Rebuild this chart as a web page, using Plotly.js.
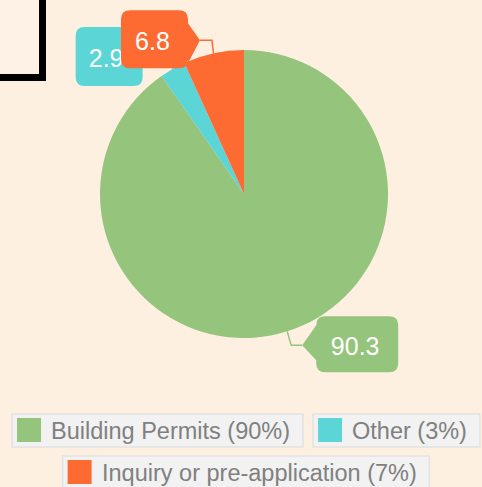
<!DOCTYPE html>
<html>
<head>
<meta charset="utf-8">
<script src="https://cdn.plot.ly/plotly-3.0.1.min.js"></script>
<style>html,body{margin:0;padding:0;background:#fdf0e1;}#chart{width:482px;height:487px;}</style>
</head>
<body>
<div id="chart"></div>
<script>
// ---- data ----
const labels = ['Building Permits', 'Other', 'Inquiry or pre-application'];
const values = [90.3, 2.9, 6.8];
const colors = ['#95c47c', '#5bd5d5', '#fd6b33'];

// ---- layout constants (pixels) ----
const W = 482, H = 487;
const CX = 244, CY = 194, R = 144;
const BG = '#fdf0e1';
const FONT = "'Liberation Sans', Arial, sans-serif";
const px = x => x / W;
const py = y => 1 - y / H;

// callout placement rules per slice (offsets in px)
const calloutRules = [
  { elbow: [4, 14], tip: [15, 14], side: 'left', box: [14, -29, 96, 27], wedge: [-20, 15], shift: -2 },
  { elbow: [0, -13], tip: [-15, -13], side: 'right', box: [-82, -29, -15, 30], wedge: [-12, 12], shift: -3 },
  { elbow: [-1.5, -13], tip: [-13.5, -13], side: 'right', box: [-79, -30, -12, 28], wedge: [-17, 23], shift: -2 }
];
const drawOrder = [1, 2, 0];

const total = values.reduce((a, b) => a + b, 0);
const shapes = [];

// top-left frame fragment
shapes.push({
  type: 'rect', xref: 'paper', yref: 'paper',
  x0: px(-10), x1: px(42.5), y0: py(-10), y1: py(77.5),
  line: { color: '#000', width: 7 }, fillcolor: 'rgba(255,255,255,0.15)', layer: 'above'
});

function pathFrom(cmds) {
  return cmds.map(c => {
    if (c[0] === 'Z') return 'Z';
    if (c[0] === 'Q') return 'Q' + px(c[1]) + ',' + py(c[2]) + ' ' + px(c[3]) + ',' + py(c[4]);
    return c[0] + px(c[1]) + ',' + py(c[2]);
  }).join(' ');
}

function calloutPath(x0, y0, x1, y1, r, side, wa, tip, wb) {
  const c = [];
  c.push(['M', x0 + r, y0]);
  c.push(['L', x1 - r, y0]);
  c.push(['Q', x1, y0, x1, y0 + r]);
  if (side === 'right') { c.push(['L', x1, wa]); c.push(['L', tip[0], tip[1]]); c.push(['L', x1, wb]); }
  c.push(['L', x1, y1 - r]);
  c.push(['Q', x1, y1, x1 - r, y1]);
  c.push(['L', x0 + r, y1]);
  c.push(['Q', x0, y1, x0, y1 - r]);
  if (side === 'left') { c.push(['L', x0, wb]); c.push(['L', tip[0], tip[1]]); c.push(['L', x0, wa]); }
  c.push(['L', x0, y0 + r]);
  c.push(['Q', x0, y0, x0 + r, y0]);
  c.push(['Z']);
  return pathFrom(c);
}

// anchors from data
const cum = [];
let acc = 0;
values.forEach(v => { cum.push(acc); acc += v; });

drawOrder.forEach(i => {
  const theta = 2 * Math.PI * (cum[i] + values[i] / 2) / total;
  const ax = CX + R * Math.sin(theta), ay = CY - R * Math.cos(theta);
  const rule = calloutRules[i];
  const ex = ax + rule.elbow[0], ey = ay + rule.elbow[1];
  const tx = ax + rule.tip[0], ty = ay + rule.tip[1];
  const bx0 = tx + rule.box[0], by0 = ty + rule.box[1], bx1 = tx + rule.box[2], by1 = ty + rule.box[3];
  // connector
  shapes.push({
    type: 'path', xref: 'paper', yref: 'paper', layer: 'above',
    path: pathFrom([['M', ax, ay], ['L', ex, ey], ['L', tx, ty]]),
    line: { color: colors[i], width: 1.5 }
  });
  // box
  shapes.push({
    type: 'path', xref: 'paper', yref: 'paper', layer: 'above',
    path: calloutPath(bx0, by0, bx1, by1, 9, rule.side, ty + rule.wedge[0], [tx, ty], ty + rule.wedge[1]),
    fillcolor: colors[i], line: { width: 0 }
  });
  // value text
  shapes.push({
    type: 'rect', xref: 'paper', yref: 'paper', layer: 'above',
    x0: px(bx0 + rule.shift), x1: px(bx1 + rule.shift), y0: py(by1), y1: py(by0),
    fillcolor: 'rgba(0,0,0,0)', line: { width: 0 },
    label: { text: values[i].toFixed(1), textposition: 'middle center',
             font: { family: FONT, size: 25, color: '#ffffff' } }
  });
});

// ---- custom legend ----
const LFS = 23.5;
const cv = document.createElement('canvas').getContext('2d');
cv.font = LFS + "px 'Liberation Sans', Arial, sans-serif";
const legendText = labels.map((l, i) => l + ' (' + Math.round(values[i] / total * 100) + '%)');
const itemW = legendText.map(t => cv.measureText(t).width + 52);
const rows = [[0, 1], [2]];
const rowTop = [414, 456];
const LCX = 246, GAP = 10, BH = 33;
const annotations = [];
rows.forEach((row, ri) => {
  const tw = row.reduce((s, k) => s + itemW[k], 0) + GAP * (row.length - 1);
  let x = LCX - tw / 2;
  const y0 = rowTop[ri];
  row.forEach(k => {
    shapes.push({
      type: 'rect', xref: 'paper', yref: 'paper', layer: 'above',
      x0: px(x), x1: px(x + itemW[k]), y0: py(y0 + BH), y1: py(y0),
      fillcolor: '#f2f2f2', line: { color: '#e2e2e2', width: 1.5 }
    });
    shapes.push({
      type: 'rect', xref: 'paper', yref: 'paper', layer: 'above',
      x0: px(x + 5), x1: px(x + 29), y0: py(y0 + 28), y1: py(y0 + 4),
      fillcolor: colors[k], line: { width: 0 }
    });
    annotations.push({
      xref: 'paper', yref: 'paper', x: px(x + 37), y: py(y0 + BH / 2 + 0.5),
      xanchor: 'left', yanchor: 'middle', showarrow: false,
      text: legendText[k], font: { family: FONT, size: LFS, color: '#808080' }
    });
    x += itemW[k] + GAP;
  });
});

const trace = {
  type: 'pie',
  labels: labels,
  values: values,
  sort: false,
  direction: 'clockwise',
  rotation: 0,
  textinfo: 'none',
  hoverinfo: 'skip',
  showlegend: false,
  marker: { colors: colors, line: { width: 0 } },
  domain: { x: [px(CX - R), px(CX + R)], y: [py(CY + R), py(CY - R)] }
};

const layout = {
  width: W, height: H,
  margin: { l: 0, r: 0, t: 0, b: 0 },
  paper_bgcolor: BG, plot_bgcolor: BG,
  showlegend: false,
  shapes: shapes,
  annotations: annotations,
  font: { family: FONT }
};

Plotly.newPlot('chart', [trace], layout, { displayModeBar: false, staticPlot: true });
</script>
</body>
</html>
